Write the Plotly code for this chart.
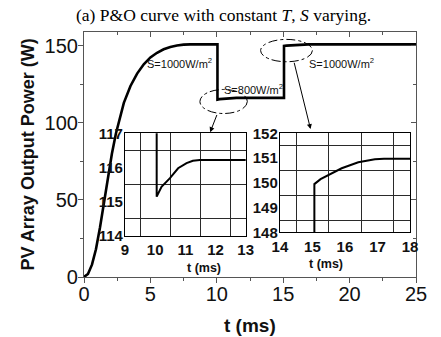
import plotly.graph_objects as go

# PV array output power under P&O tracking, irradiance stepped 1000 -> 800 -> 1000 W/m^2
t_ms = [0, 0.3, 0.6, 0.9, 1.2, 1.5, 1.8, 2.1, 2.4, 2.7, 3.0, 3.5, 4.0, 4.5,
        5.0, 5.5, 6.0, 6.5, 7.0, 7.5, 8.0, 10.05,
        10.05, 10.21, 10.49, 10.76, 11.04, 11.25, 11.48, 15.06,
        15.06, 15.25, 15.49, 15.9, 16.41, 16.92, 17.2, 25]
p_w = [0, 2, 8, 18, 32, 49, 65, 80, 93, 104, 113, 124, 132, 138,
       142.5, 145.5, 147.8, 149.3, 150.3, 150.8, 151, 151,
       115.15, 115.44, 115.69, 115.98, 116.13, 116.2, 116.22, 116.22,
       149.95, 150.15, 150.31, 150.59, 150.83, 150.95, 150.97, 150.97]

main_xticks = [0, 5, 10, 15, 20, 25]
main_yticks = [0, 50, 100, 150]
inset1_xticks = [9, 10, 11, 12, 13]
inset1_yticks = [114, 115, 116, 117]
inset2_xticks = [14, 15, 16, 17, 18]
inset2_yticks = [148, 149, 150, 151, 152]

AX = "#555555"
TXT = "#111111"
SANS = "Arial, Liberation Sans, sans-serif"
SERIF = "Times New Roman, Liberation Serif, serif"

fig = go.Figure()
fig.add_trace(go.Scatter(x=t_ms, y=p_w, mode="lines",
                         line=dict(color="black", width=2.6),
                         xaxis="x", yaxis="y", showlegend=False))
fig.add_trace(go.Scatter(x=t_ms, y=p_w, mode="lines",
                         line=dict(color="black", width=2),
                         xaxis="x2", yaxis="y2", showlegend=False))
fig.add_trace(go.Scatter(x=t_ms, y=p_w, mode="lines",
                         line=dict(color="black", width=2),
                         xaxis="x4", yaxis="y4", showlegend=False))

main_axis = dict(showline=True, linecolor=AX, linewidth=1.2,
                 ticks="outside", ticklen=5, tickcolor=AX, tickwidth=1.2,
                 showgrid=False, zeroline=False,
                 tickfont=dict(family=SANS, size=20, color=TXT))

inset_axis = dict(showline=True, mirror=True, linecolor="black", linewidth=1.2,
                  ticks="", showgrid=False, zeroline=False,
                  tickfont=dict(family=SANS, size=15, color=TXT, weight="bold"))
inset_minor = dict(dtick=1, showgrid=True, gridcolor="#2a2a2a", gridwidth=1.3, ticks="")

ins1_x = [0.1235, 0.487]
ins1_y = [0.167, 0.5865]
ins2_x = [0.590, 0.982]
ins2_y = [0.182, 0.5865]

fig.update_layout(
    width=441, height=337,
    margin=dict(l=84, r=25, t=32, b=60),
    paper_bgcolor="white", plot_bgcolor="white",
    xaxis=dict(main_axis, range=[0, 25], tickvals=main_xticks, ticklabelstandoff=-6,
               minor=dict(tickvals=[2.5, 7.5, 12.5, 17.5, 22.5], ticks="outside",
                          ticklen=3, tickcolor=AX)),
    yaxis=dict(main_axis, range=[0, 159], tickvals=main_yticks, ticklabelstandoff=-4,
               minor=dict(tickvals=[25, 75, 125], ticks="outside",
                          ticklen=3, tickcolor=AX)),
    # inward ticks along the top and right frame
    xaxis3=dict(overlaying="x", matches="x", side="top", anchor="y",
                showline=True, linecolor=AX, linewidth=1.2,
                ticks="inside", ticklen=5, tickcolor=AX, tickvals=main_xticks,
                showticklabels=False, showgrid=False, zeroline=False,
                minor=dict(tickvals=[2.5, 7.5, 12.5, 17.5, 22.5], ticks="inside",
                           ticklen=3, tickcolor=AX)),
    yaxis3=dict(overlaying="y", matches="y", side="right", anchor="x",
                showline=True, linecolor=AX, linewidth=1.2,
                ticks="inside", ticklen=5, tickcolor=AX, tickvals=main_yticks,
                showticklabels=False, showgrid=False, zeroline=False,
                minor=dict(tickvals=[25, 75, 125], ticks="inside",
                           ticklen=3, tickcolor=AX)),
    xaxis2=dict(inset_axis, domain=ins1_x, anchor="y2", range=[9, 13],
                tickvals=inset1_xticks, ticklabelstandoff=0,
                minor=dict(inset_minor, tick0=9.5)),
    yaxis2=dict(inset_axis, domain=ins1_y, anchor="x2", range=[114, 117],
                tickvals=inset1_yticks, ticklabelstandoff=-2,
                minor=dict(inset_minor, tick0=114.5)),
    xaxis4=dict(inset_axis, domain=ins2_x, anchor="y4", range=[14, 18],
                tickvals=inset2_xticks, ticklabelstandoff=0,
                minor=dict(inset_minor, tick0=14.5)),
    yaxis4=dict(inset_axis, domain=ins2_y, anchor="x4", range=[148, 152],
                tickvals=inset2_yticks, ticklabelstandoff=-2,
                minor=dict(inset_minor, tick0=148.5)),
)

fig.add_trace(go.Scatter(x=[None], y=[None], xaxis="x3", yaxis="y3",
                         showlegend=False, hoverinfo="skip"))

# dash-dot ellipses marking the zoomed regions
fig.add_shape(type="circle", xref="x", yref="y", x0=8.73, x1=12.3, y0=106.1, y1=121.7,
              line=dict(color="black", width=1, dash="dashdot"))
fig.add_shape(type="circle", xref="x", yref="y", x0=13.3, x1=17.2, y0=139.7, y1=154.2,
              line=dict(color="black", width=1, dash="dashdot"))

arrow = dict(showarrow=True, arrowhead=2, arrowsize=1, arrowwidth=1,
             arrowcolor="black", text="", xref="x", yref="y", axref="x", ayref="y")
fig.add_annotation(arrow, x=9.5, y=94.0, ax=10.05, ay=106.1)
fig.add_annotation(arrow, x=17.06, y=96.0, ax=15.8, ay=140.0)

label_font = dict(family=SANS, size=11, color=TXT)
fig.add_annotation(x=4.62, y=138.6, xref="x", yref="y", xanchor="left", yanchor="middle",
                   text="S=1000W/m<sup>2</sup>", showarrow=False, font=label_font)
fig.add_annotation(x=16.8, y=138.6, xref="x", yref="y", xanchor="left", yanchor="middle",
                   text="S=1000W/m<sup>2</sup>", showarrow=False, font=label_font)
fig.add_annotation(x=10.4, y=122.0, xref="x", yref="y", xanchor="left", yanchor="middle",
                   text="S=800W/m<sup>2</sup>", showarrow=False, font=label_font)

# inset axis titles
ins_title_font = dict(family=SANS, size=12.5, color=TXT, weight="bold")
fig.add_annotation(x=sum(ins1_x) / 2, y=(277 - 268) / 245, xref="paper", yref="paper",
                   text="t (ms)", showarrow=False, font=ins_title_font, yanchor="middle")
fig.add_annotation(x=sum(ins2_x) / 2, y=(277 - 264.3) / 245, xref="paper", yref="paper",
                   text="t (ms)", showarrow=False, font=ins_title_font, yanchor="middle")

# main axis titles and heading
fig.add_annotation(x=0.5, y=(277 - 325) / 245, xref="paper", yref="paper",
                   text="t (ms)", showarrow=False, yanchor="middle",
                   font=dict(family=SANS, size=19, color=TXT, weight="bold"))
fig.add_annotation(x=(27 - 84) / 332, y=0.5, xref="paper", yref="paper",
                   text="PV Array Output Power (W)", showarrow=False, textangle=-90,
                   xanchor="center", yanchor="middle",
                   font=dict(family=SANS, size=18, color=TXT, weight="bold"))
fig.add_annotation(x=(223.5 - 84) / 332, y=(277 - 15) / 245, xref="paper", yref="paper",
                   text="(a) P&amp;O curve with constant <i>T</i>, <i>S</i> varying.",
                   showarrow=False, yanchor="middle",
                   font=dict(family=SERIF, size=17.5, color="black"))

fig.write_html("out.html")
